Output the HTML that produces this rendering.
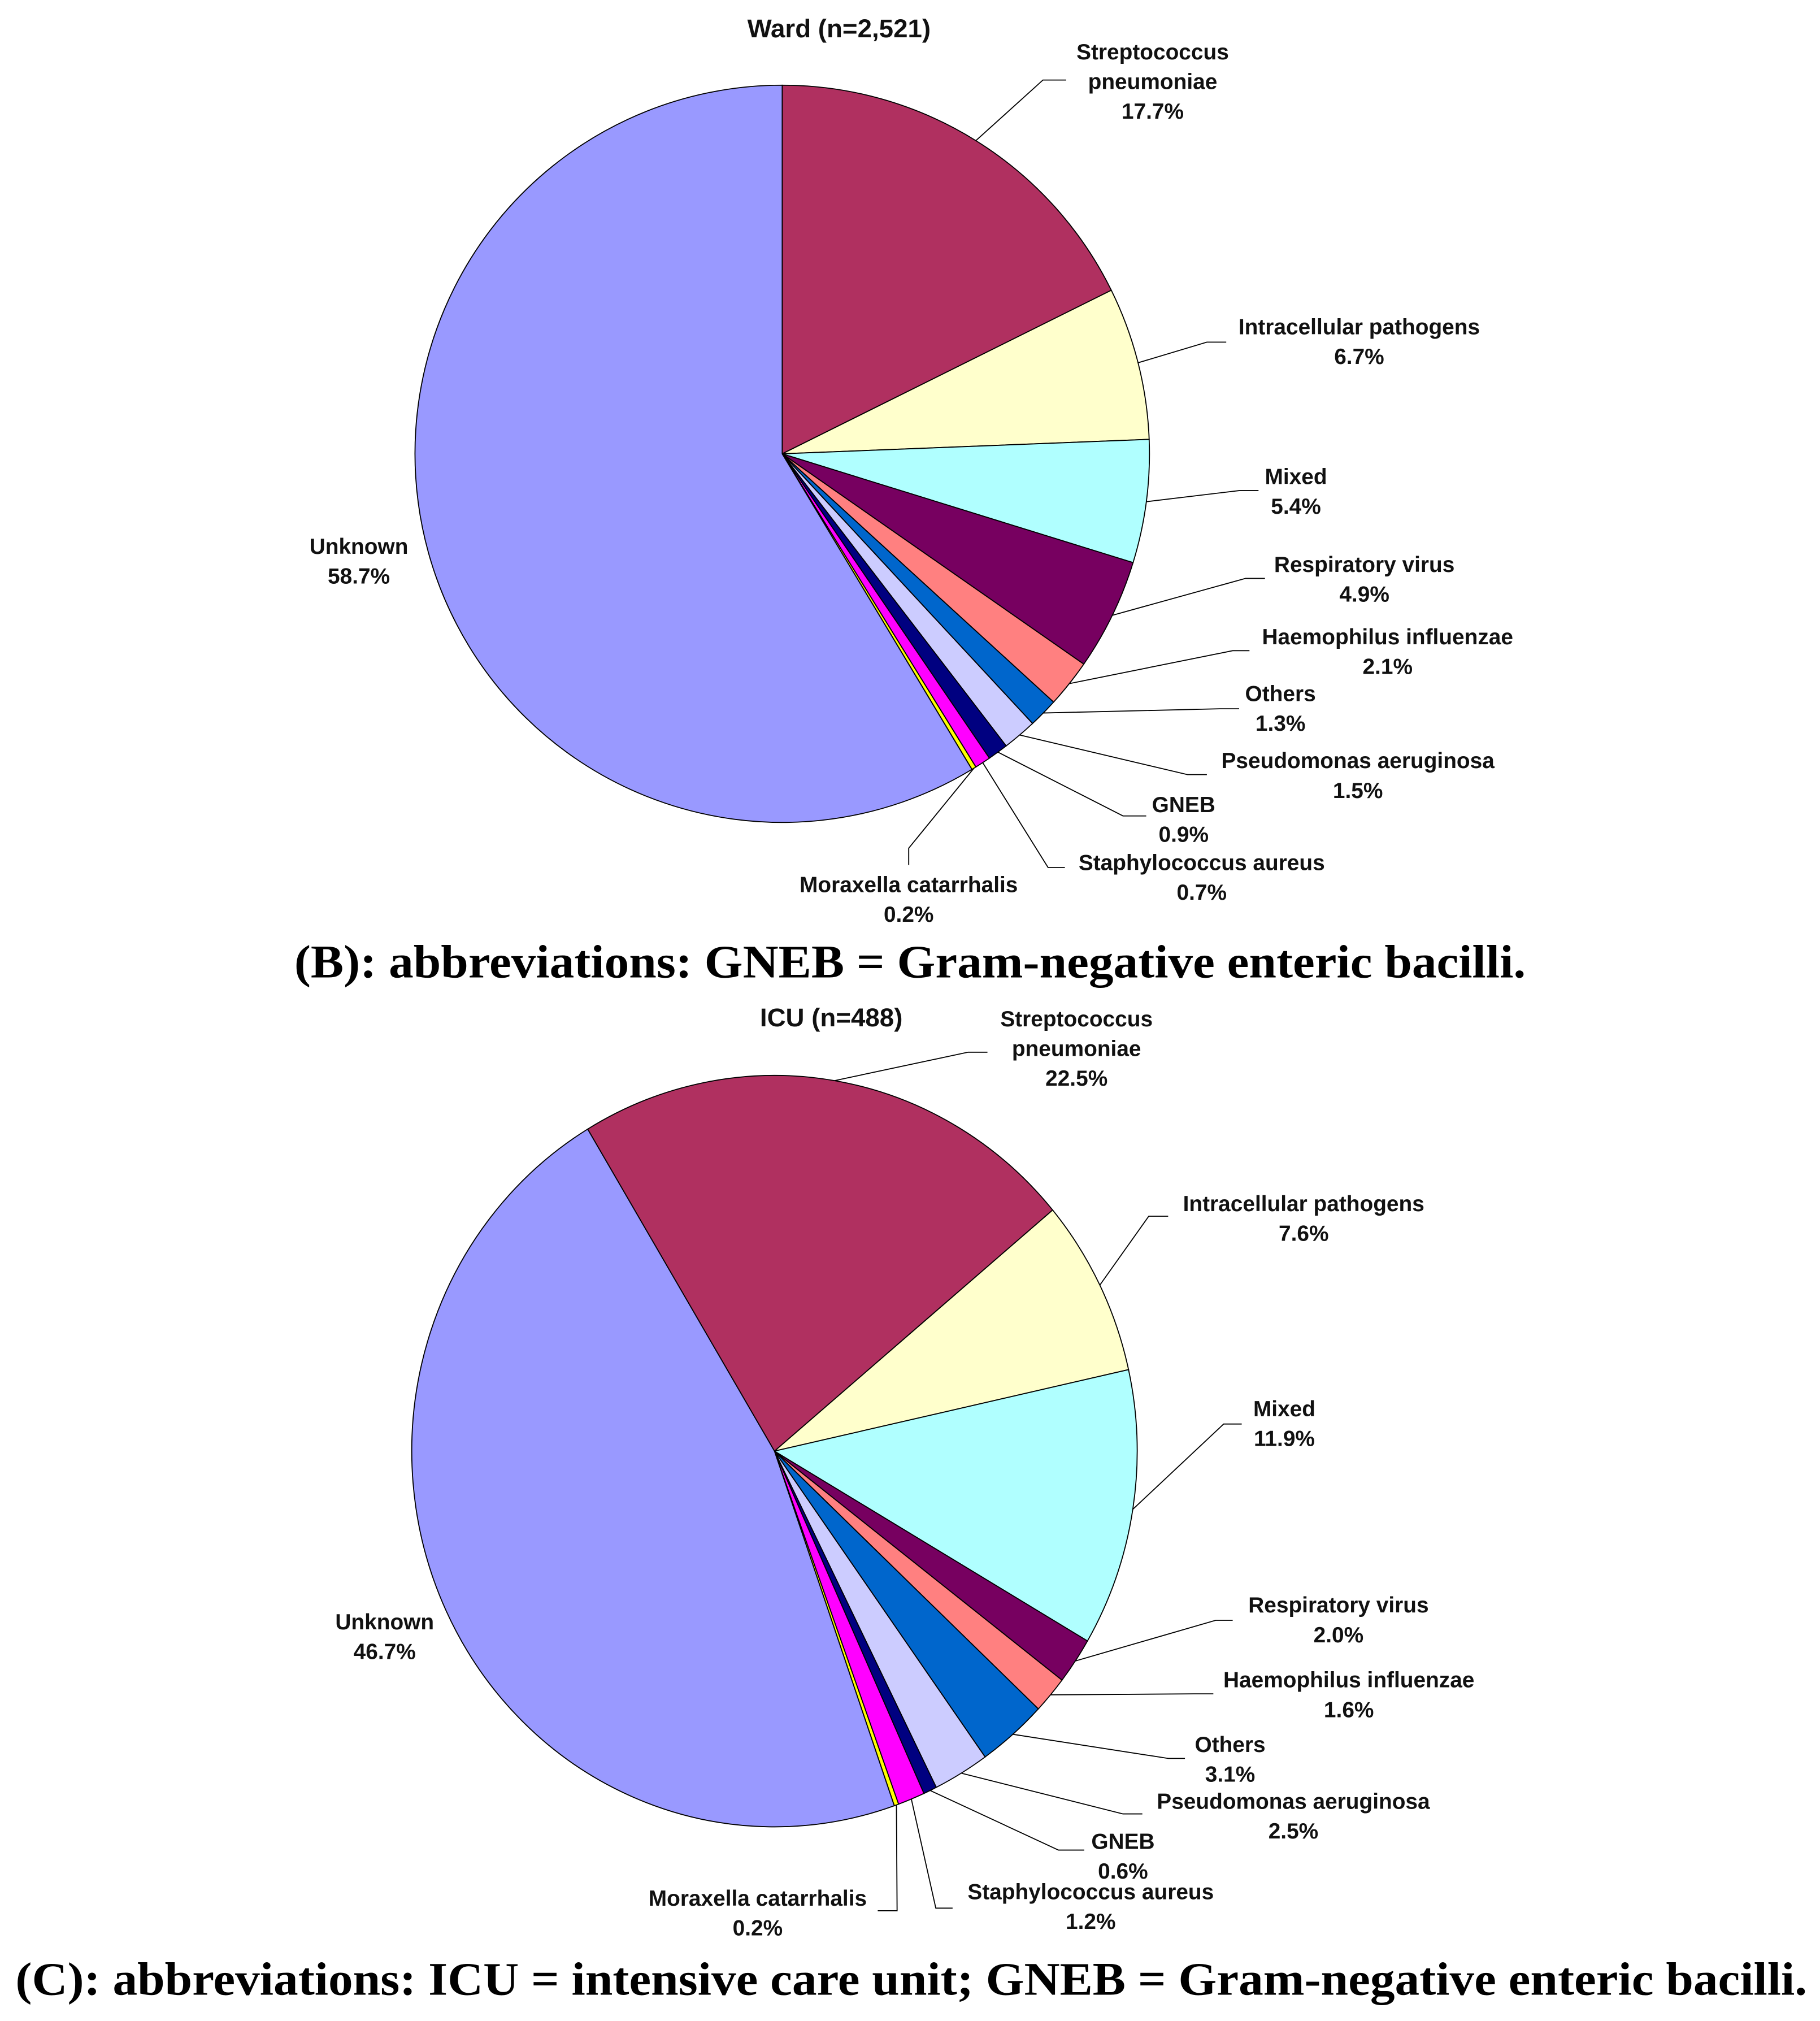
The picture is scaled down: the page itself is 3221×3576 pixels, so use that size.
<!DOCTYPE html>
<html><head><meta charset="utf-8"><style>
html,body{margin:0;padding:0;background:#fff}
svg{display:block}
text{font-family:"Liberation Sans",Arial,sans-serif;font-weight:bold;font-size:17px;fill:#111}
.ttl{font-size:20px}
.cap{font-family:"Liberation Serif",serif;font-size:36px;fill:#000}
</style></head><body>
<svg id="chart" width="3221" height="3576" viewBox="0 0 1410 1565.4" preserveAspectRatio="none" xmlns="http://www.w3.org/2000/svg">
<text class="ttl" x="650" y="29" text-anchor="middle">Ward (n=2,521)</text>
<text class="ttl" x="644" y="795" text-anchor="middle">ICU (n=488)</text>
<text class="cap" x="705" y="757" text-anchor="middle" textLength="954" lengthAdjust="spacingAndGlyphs">(B): abbreviations: GNEB = Gram-negative enteric bacilli.</text>
<text class="cap" x="706" y="1545" text-anchor="middle" textLength="1388" lengthAdjust="spacingAndGlyphs">(C): abbreviations: ICU = intensive care unit; GNEB = Gram-negative enteric bacilli.</text>
<g id="ward"></g>
<g id="icu"></g>
</svg>
<script>
const categories=["Streptococcus pneumoniae","Intracellular pathogens","Mixed","Respiratory virus","Haemophilus influenzae","Others","Pseudomonas aeruginosa","GNEB","Staphylococcus aureus","Moraxella catarrhalis","Unknown"];
const wardValues=[17.7,6.7,5.4,4.9,2.1,1.3,1.5,0.9,0.7,0.2,58.7];
const icuValues=[22.5,7.6,11.9,2.0,1.6,3.1,2.5,0.6,1.2,0.2,46.7];
const colors=["#B03060","#FFFFCC","#B0FFFF","#770060","#FF8080","#0066CC","#CCCCFF","#000080","#FF00FF","#FFFF00","#9999FF"];
const labelLines=[["Streptococcus","pneumoniae"],["Intracellular pathogens"],["Mixed"],["Respiratory virus"],["Haemophilus influenzae"],["Others"],["Pseudomonas aeruginosa"],["GNEB"],["Staphylococcus aureus"],["Moraxella catarrhalis"],["Unknown"]];
const wardLayout={cx:606,cy:351.5,rx:284.5,ry:285.5,start:0,
 lab:[[893,46],[1053,259],[1004,375],[1057,443],[1075,499],[992,543],[1052,595],[917,629],[931,674],[704,691],[278,429]],
 elb:[[[808,62],[826,62]],[[935,265],[950,265]],[[960,380],[975,380]],[[965,448],[980,448]],[[955,504],[968,504]],[[945,549],[960,549]],[[920,600],[935,600]],[[870,632],[888,632]],[[812,672],[825,672]],[[704,657],[704,670]],null]};
const icuLayout={cx:600,cy:1124,rx:281,ry:291,start:-31,
 lab:[[834,795],[1010,938],[995,1097],[1037,1249],[1045,1307],[953,1357],[1002,1401],[870,1432],[845,1471],[587,1476],[298,1262]],
 elb:[[[750,815],[765,815]],[[890,942],[905,942]],[[948,1103],[962,1103]],[[942,1255],[955,1255]],[[925,1312],[940,1312]],[[905,1362],[918,1362]],[[870,1405],[885,1405]],[[820,1433],[840,1433]],[[725,1478],[738,1478]],[[695,1480],[680,1480]],null]};
const NS="http://www.w3.org/2000/svg";
function pt(L,deg,f){const a=deg*Math.PI/180;return [L.cx+L.rx*f*Math.sin(a),L.cy-L.ry*f*Math.cos(a)];}
function draw(gid,values,L,prefix){
 const g=document.getElementById(gid);
 const total=values.reduce((a,b)=>a+b,0);
 let ang=L.start;
 values.forEach((v,i)=>{
  const sweep=v/total*360,a1=ang+sweep;
  const p0=pt(L,ang,1),p1=pt(L,a1,1);
  const p=document.createElementNS(NS,"path");
  p.setAttribute("d",`M${L.cx},${L.cy}L${p0[0]},${p0[1]}A${L.rx},${L.ry} 0 ${sweep>180?1:0} 1 ${p1[0]},${p1[1]}Z`);
  p.setAttribute("fill",colors[i]);p.setAttribute("stroke","#000");p.setAttribute("stroke-width","0.8");
  
  
  g.appendChild(p);
  const mid=ang+sweep/2;
  if(L.elb[i]){
   const s=pt(L,mid,1);
   const pl=document.createElementNS(NS,"polyline");
   pl.setAttribute("points",`${s[0]},${s[1]} ${L.elb[i][0].join(",")} ${L.elb[i][1].join(",")}`);
   pl.setAttribute("fill","none");pl.setAttribute("stroke","#000");pl.setAttribute("stroke-width","0.8");
   
   
   g.appendChild(pl);
  }
  const lines=labelLines[i].concat([v.toFixed(1)+"%"]);
  const t=document.createElementNS(NS,"text");
  t.setAttribute("text-anchor","middle");
  
  
  lines.forEach((ln,k)=>{const ts=document.createElementNS(NS,"tspan");ts.setAttribute("x",L.lab[i][0]);ts.setAttribute("y",L.lab[i][1]+k*23);ts.textContent=ln;t.appendChild(ts);});
  g.appendChild(t);
  ang=a1;
 });
}
draw("ward",wardValues,wardLayout,"ward");
draw("icu",icuValues,icuLayout,"icu");
</script>
</body></html>
